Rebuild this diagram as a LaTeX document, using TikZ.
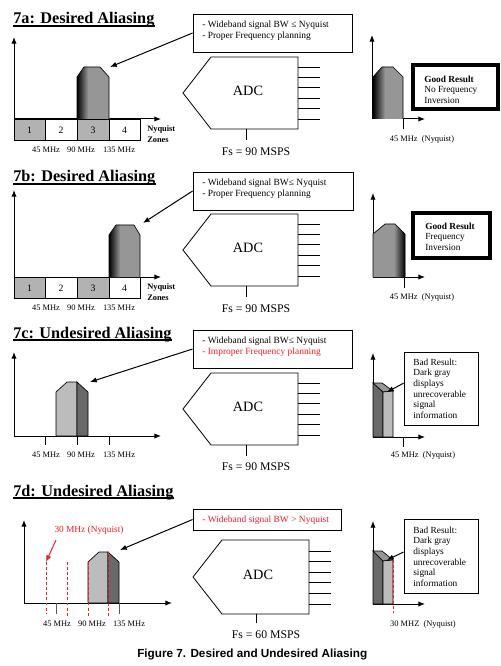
\documentclass[tikz,border=0pt]{standalone}
\usepackage{fontspec}
\setmainfont{Liberation Serif}
\newfontfamily\capfont{Liberation Sans}
\usetikzlibrary{arrows.meta,fit}
\definecolor{sig}{RGB}{150,150,150}
\definecolor{zgray}{RGB}{178,178,178}
\definecolor{lgray}{RGB}{188,188,188}
\definecolor{dgray}{RGB}{105,105,105}
\definecolor{mgray}{RGB}{150,150,150}
\definecolor{tgray}{RGB}{90,90,90}
\definecolor{myred}{RGB}{245,30,40}
\begin{document}
\begin{tikzpicture}[x=0.75pt,y=-0.75pt,
  ttl/.style={font=\fontsize{12.2}{14}\selectfont\bfseries, inner sep=0, anchor=base west},
  btxt/.style={font=\fontsize{7.1}{8.3}\selectfont, inner sep=0, anchor=north west, align=left},
  rtxt/.style={font=\fontsize{7}{8}\selectfont, inner sep=0, anchor=north west, align=left},
  ftxt/.style={font=\fontsize{6.3}{7}\selectfont, inner sep=0},
  ztxt/.style={font=\fontsize{7.3}{8}\selectfont, inner sep=0},
  adctxt/.style={font=\fontsize{10.7}{12}\selectfont, inner sep=0},
  fstxt/.style={font=\fontsize{8.8}{10}\selectfont, inner sep=0},
  axis/.style={line width=0.75pt, -{Latex[length=5pt,width=4pt]}},
  ptr/.style={line width=0.75pt, -{Latex[length=5pt,width=4pt]}},
  tbox/.style={draw, line width=0.6pt, inner sep=0},
  gbox/.style={draw, line width=2.3pt, inner sep=0},
  sigline/.style={line width=0.5pt},
  reddash/.style={myred, line width=0.7pt, dash pattern=on 2.2pt off 1.6pt},
  uline/.style={line width=1pt}
]
\useasboundingbox (0,0) rectangle (500,666);
\fill[white] (0,0) rectangle (500,666);

% ================= 7a =================
\node[ttl] (tA) at (13,24) {7a: Desired Aliasing};
\draw[uline] ([yshift=-1.6pt]tA.base west) -- ([yshift=-1.6pt]tA.base east);
\coordinate (oA) at (14,119);
\draw[axis] (oA) -- (14,37);
\draw[axis] (oA) -- (161,119);
\draw[fill=zgray,line width=0.6pt] (14,119) rectangle (45,140);
\draw[fill=white,line width=0.6pt] (45,119) rectangle (77,140);
\draw[fill=zgray,line width=0.6pt] (77,119) rectangle (109,140);
\draw[fill=white,line width=0.6pt] (109,119) rectangle (140,140);
\node[ztxt] (zA1) at (29.5,130) {1};
\node[ztxt] (zA2) at (61,130) {2};
\node[ztxt] (zA3) at (93,130) {3};
\node[ztxt] (zA4) at (124.5,130) {4};
\node[ftxt,font=\fontsize{6.3}{8}\selectfont\bfseries,align=left,anchor=west] (nzA) at (147,134) {Nyquist\\Zones};
\node[ftxt] (fA1) at (46,150) {45 MHz};
\node[ftxt] (fA2) at (81,150) {90 MHz};
\node[ftxt] (fA3) at (119,150) {135 MHz};
\begin{scope}
\clip (77,119) -- (77,77) -- (84,67) -- (100,67) -- (109,77) -- (109,119) -- cycle;
\fill[sig] (70,60) rectangle (115,125);
\shade[left color=black, right color=sig] (77,60) rectangle (88,125);
\end{scope}
\draw[sigline] (77,119) -- (77,77) -- (84,67) -- (100,67) -- (109,77) -- (109,119);
\coordinate (sA) at (110,67);
\node[tbox, fit={(193,14)(352,52)}] (boxA) {};
\node[btxt] (bA) at (202,20.5) {- Wideband signal BW ≤ Nyquist\\- Proper Frequency planning};
\draw[ptr] (boxA.west) -- (sA);
% ADC
\draw[line width=0.6pt] (183,93) -- (211,57) -- (298,57) -- (298,129) -- (211,129) -- cycle;
\node[adctxt] (adcA) at (248,91) {ADC};
\foreach \yy in {67,77.4,87.8,98.2,108.6,119} \draw[line width=0.6pt] (298,\yy) -- (320,\yy);
\draw[line width=0.6pt] (246,129) -- (246,140);
\node[fstxt] (fsA) at (256,152) {Fs = 90 MSPS};
% result
\draw[axis] (372,119) -- (372,35);
\draw[axis] (372,119) -- (425,119);
\draw[line width=0.6pt] (403,119) -- (403,129);
\begin{scope}
\clip (373,119) -- (373,77) -- (382,67) -- (393,67) -- (403,77) -- (403,119) -- cycle;
\fill[sig] (370,60) rectangle (410,125);
\shade[left color=black, right color=sig] (373,60) rectangle (385,125);
\end{scope}
\draw[sigline] (373,119) -- (373,77) -- (382,67) -- (393,67) -- (403,77) -- (403,119);
\node[ftxt] (nyA) at (422,139) {45 MHz\ \ (Nyquist)};
\node[gbox, fit={(413,65)(498,109)}] (resA) {};
\node[rtxt] (rA) at (424,75.5) {\textbf{Good Result}\\No Frequency\\Inversion};

% ================= 7b =================
\node[ttl] (tB) at (13,182) {7b: Desired Aliasing};
\draw[uline] ([yshift=-1.6pt]tB.base west) -- ([yshift=-1.6pt]tB.base east);
\draw[axis] (14,277) -- (14,190);
\draw[axis] (14,277) -- (161,277);
\draw[fill=zgray,line width=0.6pt] (14,277) rectangle (45,298);
\draw[fill=white,line width=0.6pt] (45,277) rectangle (77,298);
\draw[fill=zgray,line width=0.6pt] (77,277) rectangle (109,298);
\draw[fill=white,line width=0.6pt] (109,277) rectangle (140,298);
\node[ztxt] (zB1) at (29.5,288) {1};
\node[ztxt] (zB2) at (61,288) {2};
\node[ztxt] (zB3) at (93,288) {3};
\node[ztxt] (zB4) at (124.5,288) {4};
\node[ftxt,font=\fontsize{6.3}{8}\selectfont\bfseries,align=left,anchor=west] (nzB) at (147,292) {Nyquist\\Zones};
\node[ftxt] (fB1) at (46,308) {45 MHz};
\node[ftxt] (fB2) at (81,308) {90 MHz};
\node[ftxt] (fB3) at (119,308) {135 MHz};
\begin{scope}
\clip (109,277) -- (109,235) -- (116,225) -- (134,225) -- (140,235) -- (140,277) -- cycle;
\fill[sig] (100,215) rectangle (145,285);
\shade[left color=black, right color=sig] (109,215) rectangle (120,285);
\end{scope}
\draw[sigline] (109,277) -- (109,235) -- (116,225) -- (134,225) -- (140,235) -- (140,277);
\coordinate (sB) at (143,223);
\node[tbox, fit={(193,172)(353,210)}] (boxB) {};
\node[btxt] (bB) at (202,178.5) {- Wideband signal BW≤ Nyquist\\- Proper Frequency planning};
\draw[ptr] (boxB.west) -- (sB);
\begin{scope}[shift={(0,157)}]
\draw[line width=0.6pt] (183,93) -- (211,57) -- (298,57) -- (298,129) -- (211,129) -- cycle;
\node[adctxt] (adcB) at (248,91) {ADC};
\foreach \yy in {67,77.4,87.8,98.2,108.6,119} \draw[line width=0.6pt] (298,\yy) -- (320,\yy);
\draw[line width=0.6pt] (246,129) -- (246,140);
\node[fstxt] (fsB) at (256,152) {Fs = 90 MSPS};
\end{scope}
\draw[axis] (373,277) -- (373,193);
\draw[axis] (373,277) -- (425,277);
\draw[line width=0.6pt] (404,277) -- (404,288);
\begin{scope}
\clip (373,277) -- (373,234) -- (385,224) -- (395,224) -- (405,234) -- (405,277) -- cycle;
\fill[sig] (370,215) rectangle (410,285);
\shade[left color=sig, right color=black] (394,215) rectangle (405,285);
\end{scope}
\draw[sigline] (373,277) -- (373,234) -- (385,224) -- (395,224) -- (405,234) -- (405,277);
\node[ftxt] (nyB) at (422,297) {45 MHz\ \ (Nyquist)};
\node[gbox, fit={(413,213)(490,258)}] (resB) {};
\node[rtxt] (rB) at (425,222.5) {\textbf{Good Result}\\Frequency\\Inversion};

% ================= 7c =================
\node[ttl] (tC) at (13,338) {7c: Undesired Aliasing};
\draw[uline] ([yshift=-1.6pt]tC.base west) -- ([yshift=-1.6pt]tC.base east);
\draw[axis] (14,436) -- (14,352);
\draw[axis] (14,436) -- (161,436);
\foreach \xx in {45,77,109} \draw[line width=0.6pt] (\xx,436) -- (\xx,445);
\node[ftxt] (fC1) at (46,455) {45 MHz};
\node[ftxt] (fC2) at (81,455) {90 MHz};
\node[ftxt] (fC3) at (119,455) {135 MHz};
\draw[sigline, fill=lgray] (56,436) -- (56,392) -- (67,382) -- (77,382) -- (77,436) -- cycle;
\draw[sigline, fill=dgray] (77,436) -- (77,382) -- (88,392) -- (88,436) -- cycle;
\coordinate (sC) at (90,382);
\node[tbox, fit={(193,330)(352,368)}] (boxC) {};
\node[btxt] (bC) at (202,336.5) {- Wideband signal BW≤ Nyquist\\\textcolor{myred}{- Improper Frequency planning}};
\draw[ptr] (boxC.west) -- (sC);
\begin{scope}[shift={(0,316)}]
\draw[line width=0.6pt] (183,93) -- (211,57) -- (298,57) -- (298,129) -- (211,129) -- cycle;
\node[adctxt] (adcC) at (248,91) {ADC};
\foreach \yy in {67,77.4,87.8,98.2,108.6,119} \draw[line width=0.6pt] (298,\yy) -- (320,\yy);
\draw[line width=0.6pt] (246,129) -- (246,140);
\node[fstxt] (fsC) at (256,151) {Fs = 90 MSPS};
\end{scope}
\draw[axis] (373,437) -- (373,353);
\draw[axis] (373,437) -- (425,437);
\draw[line width=0.6pt] (403,437) -- (403,447);
\draw[sigline, fill=dgray] (373,437) -- (373,383) -- (383,392) -- (383,437) -- cycle;
\draw[sigline, fill=mgray] (373,383) -- (382,383) -- (393,391) -- (383,392) -- cycle;
\draw[sigline, fill=lgray] (383,437) -- (383,392) -- (393,391) -- (393,437) -- cycle;
\coordinate (rsC) at (387,392);
\node[ftxt] (nyC) at (423,455) {45 MHz\ \ (Nyquist)};
\node[tbox, fit={(404,352)(478,425)}] (resC) {};
\node[rtxt] (rC) at (413,358.5) {Bad Result:\\Dark gray\\displays\\unrecoverable\\signal\\information};
\draw[ptr] ([yshift=4pt]resC.west) -- (rsC);

% ================= 7d =================
\node[ttl] (tD) at (13,496) {7d: Undesired Aliasing};
\draw[uline] ([yshift=-1.6pt]tD.base west) -- ([yshift=-1.6pt]tD.base east);
\draw[axis] (24,603) -- (24,520);
\draw[axis] (24,603) -- (172,603);
\foreach \xx in {56,119} \draw[line width=0.6pt, tgray] (\xx,603) -- (\xx,614);
\draw[sigline, fill=lgray] (88,603) -- (88,562) -- (99,552) -- (108,552) -- (108,603) -- cycle;
\draw[sigline, fill=dgray] (108,603) -- (108,552) -- (119,562) -- (119,603) -- cycle;
\draw[reddash] (46,562) -- (46,614);
\draw[reddash] (67,562) -- (67,616);
\draw[reddash] (88,562) -- (88,616);
\draw[reddash] (108,552) -- (108,616);
\node[ftxt, font=\fontsize{7}{8}\selectfont, text=myred] (nyL) at (89,530) {30 MHz (Nyquist)};
\coordinate (rdD) at (46,562);
\draw[ptr, myred] (56,540) -- (rdD);
\node[ftxt] (fD1) at (57,624) {45 MHz};
\node[ftxt] (fD2) at (92,624) {90 MHz};
\node[ftxt] (fD3) at (129,624) {135 MHz};
\coordinate (sD) at (120,550);
\node[tbox, fit={(193,509)(341,530)}] (boxD) {};
\node[btxt, text=myred] (bD) at (202,515.5) {- Wideband signal BW > Nyquist};
\draw[ptr] (boxD.west) -- (sD);
\begin{scope}[shift={(10,483)}]
\draw[line width=0.6pt] (183,94) -- (212,57) -- (299,57) -- (299,131) -- (212,131) -- cycle;
\node[adctxt] (adcD) at (248,92) {ADC};
\foreach \yy in {68,78.6,89.2,99.8,110.4,121} \draw[line width=0.6pt] (299,\yy) -- (321,\yy);
\draw[line width=0.6pt] (246,131) -- (246,140);
\node[fstxt] (fsD) at (256,152) {Fs = 60 MSPS};
\end{scope}
\draw[axis] (373,604) -- (373,521);
\draw[axis] (373,604) -- (425,604);
\draw[sigline, fill=dgray] (373,604) -- (373,551) -- (383,561) -- (383,604) -- cycle;
\draw[sigline, fill=mgray] (373,551) -- (382,551) -- (393,560) -- (383,561) -- cycle;
\draw[sigline, fill=lgray] (383,604) -- (383,561) -- (393,560) -- (393,604) -- cycle;
\draw[reddash] (393,560) -- (393,613);
\coordinate (rsD) at (387,560);
\node[ftxt] (nyD) at (423,624) {30 MHZ\ \ (Nyquist)};
\node[tbox, fit={(404,519)(478,593)}] (resD) {};
\node[rtxt] (rD) at (413,526.5) {Bad Result:\\Dark gray\\displays\\unrecoverable\\signal\\information};
\draw[ptr] ([yshift=3pt]resD.west) -- (rsD);

% caption
\node[inner sep=0, anchor=base west, font=\capfont\bfseries\fontsize{8.8}{10}\selectfont] (cap) at (137,657) {Figure 7. Desired and Undesired Aliasing};
\end{tikzpicture}
\end{document}
